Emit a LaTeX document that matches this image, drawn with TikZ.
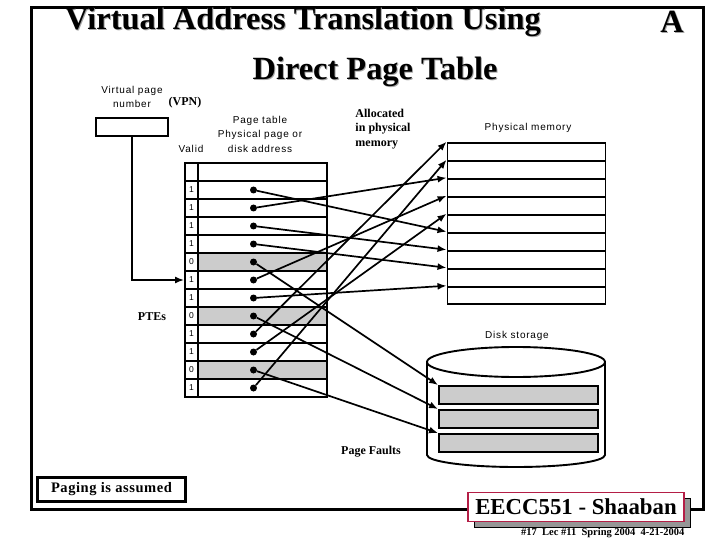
\documentclass[tikz,border=0pt]{standalone}
\usepackage{fontspec}
\setmainfont{Liberation Serif}
\newfontfamily\labelfont[LetterSpace=8]{Liberation Sans}
\newfontfamily\pagingfont[LetterSpace=4]{Liberation Serif}
\usetikzlibrary{arrows.meta}
\definecolor{rowgray}{RGB}{204,204,204}
\definecolor{shadegray}{RGB}{150,150,150}
\definecolor{boxred}{RGB}{180,30,70}
\tikzset{thick line/.style={line width=1.9pt, draw=black},
         valid/.style={thick line, rectangle, minimum width=13pt, minimum height=18pt, inner sep=0pt, font=\labelfont\fontsize{8.5}{8.5}\selectfont},
         frame/.style={thick line, rectangle, minimum width=129pt, minimum height=18pt, inner sep=0pt},
         fault/.style={frame, fill=rowgray},
         memrow/.style={thick line, rectangle, minimum width=158pt, minimum height=18pt, inner sep=0pt},
         diskrow/.style={thick line, rectangle, fill=rowgray, minimum width=159pt, minimum height=18pt, inner sep=0pt},
         entry/.style={circle, fill=black, minimum size=7pt, inner sep=0pt},
         link/.style={line width=1.7pt, -{Latex[length=9pt,width=7pt]}},
         small label/.style={font=\labelfont\fontsize{10}{14.5}\selectfont, align=center},
         bold label/.style={font=\bfseries\fontsize{12}{14.5}\selectfont, align=left},
         heading/.style={font=\bfseries\fontsize{32.4}{32}\selectfont}}
\begin{document}
\begin{tikzpicture}[x=1pt, y=-1pt]
            \useasboundingbox (0,0) rectangle (720,540);
            \node[rectangle, draw=black, line width=3pt, minimum width=671.5pt, minimum height=501pt, inner sep=0pt] (slide) at (367.25,258.5) {};

            \node[heading, text=gray!70] (titleashade) at (304,23) {Virtual Address Translation Using};
            \node[heading] (titlea) at (303,22) {Virtual Address Translation Using};
            \node[heading, text=gray!70] (titlebshade) at (673,23) {A};
            \node[heading] (titleb) at (672,22) {A};
            \node[heading, text=gray!70] (titlecshade) at (376,73) {Direct Page Table};
            \node[heading] (titlec) at (375,72) {Direct Page Table};

            \node[small label] (vpnlabel) at (132,97) {Virtual page\\number};
            \node[bold label] (vpn) at (185,103) {(VPN)};
            \node[thick line, rectangle, minimum width=72pt, minimum height=18pt, inner sep=0pt] (vpnbox) at (132,127) {};

            \node[small label] (tablelabel) at (260,134) {Page table\\Physical page or\\disk address};
            \node[small label] (validlabel) at (191,149) {Valid};
            \node[bold label] (alloclabel) at (383,129) {Allocated\\in physical\\memory};
            \node[small label] (memlabel) at (528,128) {Physical memory};
            \node[small label] (disklabel) at (517,336) {Disk storage};
            \node[bold label] (ptes) at (152,317) {PTEs};
            \node[bold label] (faults) at (371,452) {Page Faults};

            \node[valid] (v0) at (191.5,172) {};
            \node[valid] (v1) at (191.5,190) {1};
            \node[valid] (v2) at (191.5,208) {1};
            \node[valid] (v3) at (191.5,226) {1};
            \node[valid] (v4) at (191.5,244) {1};
            \node[valid] (v5) at (191.5,262) {0};
            \node[valid] (v6) at (191.5,280) {1};
            \node[valid] (v7) at (191.5,298) {1};
            \node[valid] (v8) at (191.5,316) {0};
            \node[valid] (v9) at (191.5,334) {1};
            \node[valid] (v10) at (191.5,352) {1};
            \node[valid] (v11) at (191.5,370) {0};
            \node[valid] (v12) at (191.5,388) {1};

            \node[frame] (p0) at (262.5,172) {};
            \node[frame] (p1) at (262.5,190) {};
            \node[frame] (p2) at (262.5,208) {};
            \node[frame] (p3) at (262.5,226) {};
            \node[frame] (p4) at (262.5,244) {};
            \node[fault] (p5) at (262.5,262) {};
            \node[frame] (p6) at (262.5,280) {};
            \node[frame] (p7) at (262.5,298) {};
            \node[fault] (p8) at (262.5,316) {};
            \node[frame] (p9) at (262.5,334) {};
            \node[frame] (p10) at (262.5,352) {};
            \node[fault] (p11) at (262.5,370) {};
            \node[frame] (p12) at (262.5,388) {};

            \node[entry] (e1) at (253.5,190) {};
            \node[entry] (e2) at (253.5,208) {};
            \node[entry] (e3) at (253.5,226) {};
            \node[entry] (e4) at (253.5,244) {};
            \node[entry] (e5) at (253.5,262) {};
            \node[entry] (e6) at (253.5,280) {};
            \node[entry] (e7) at (253.5,298) {};
            \node[entry] (e8) at (253.5,316) {};
            \node[entry] (e9) at (253.5,334) {};
            \node[entry] (e10) at (253.5,352) {};
            \node[entry] (e11) at (253.5,370) {};
            \node[entry] (e12) at (253.5,388) {};

            \node[memrow] (m1) at (526.5,151.7) {};
            \node[memrow] (m2) at (526.5,169.7) {};
            \node[memrow] (m3) at (526.5,187.7) {};
            \node[memrow] (m4) at (526.5,205.7) {};
            \node[memrow] (m5) at (526.5,223.7) {};
            \node[memrow] (m6) at (526.5,241.7) {};
            \node[memrow] (m7) at (526.5,259.7) {};
            \node[memrow] (m8) at (526.5,277.7) {};
            \node[memrow, minimum height=17pt] (m9) at (526.5,295.2) {};

            \draw[thick line] (427,362) arc (180:-180:89pt and 15pt);
            \draw[thick line] (427,362) -- (427,455) arc (180:360:89pt and 12pt) -- (605,362);
            \node[diskrow] (d1) at (518.5,395) {};
            \node[diskrow] (d2) at (518.5,419) {};
            \node[diskrow] (d3) at (518.5,443) {};

            \draw[link] (vpnbox) |- (v6.west);

            \draw[link] (e1) -- (m6.north west);
            \draw[link] (e2) -- (m3.north west);
            \draw[link] (e3) -- (m7.north west);
            \draw[link] (e4) -- (m8.north west);
            \draw[link] (e5) -- (d1.north west);
            \draw[link] (e6) -- (m4.north west);
            \draw[link] (e7) -- (m9.north west);
            \draw[link] (e8) -- (d2.north west);
            \draw[link] (e9) -- (m1.north west);
            \draw[link] (e10) -- (m5.north west);
            \draw[link] (e11) -- (d3.north west);
            \draw[link] (e12) -- (m2.north west);

            \node[rectangle, draw=black, line width=2.4pt, fill=white, minimum width=148pt, minimum height=24pt, inner sep=0pt, font=\pagingfont\bfseries\fontsize{14.5}{14.5}\selectfont] (paging) at (111.5,489.5) {Paging is assumed};

            \node[rectangle, fill=shadegray, draw=black, line width=1pt, minimum width=216pt, minimum height=29pt, inner sep=0pt] (badgeshade) at (582,513) {};
            \node[rectangle, fill=white, draw=boxred, line width=1.8pt, minimum width=216pt, minimum height=29pt, inner sep=0pt, font=\bfseries\fontsize{22.8}{22.8}\selectfont] (badge) at (576,507) {EECC551 - Shaaban};
            \node[font=\bfseries\fontsize{10.5}{10.5}\selectfont, anchor=east] (footer) at (688,533) {\#17 \ Lec \#11 \ Spring 2004 \ 4-21-2004};
\end{tikzpicture}
\end{document}
